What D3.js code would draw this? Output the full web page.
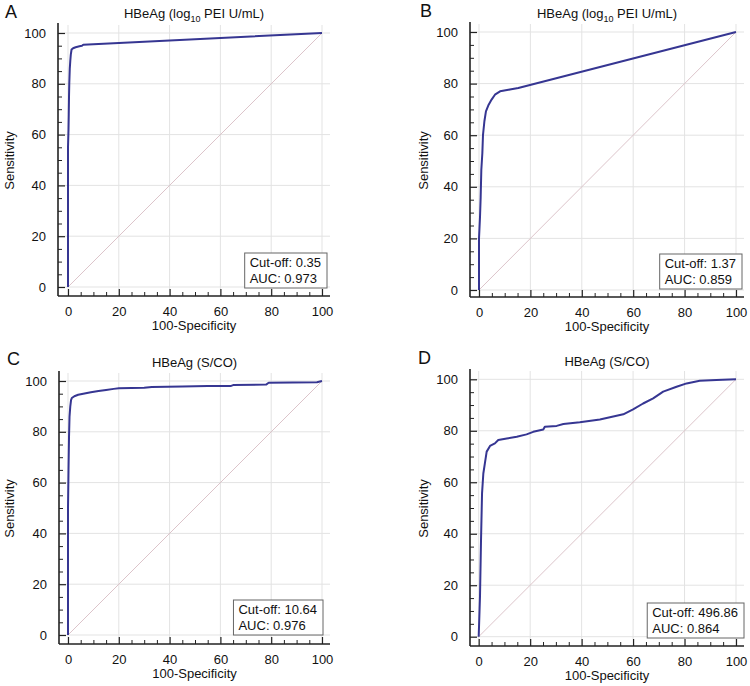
<!DOCTYPE html>
<html>
<head>
<meta charset="utf-8">
<script src="https://cdn.jsdelivr.net/npm/d3@7"></script>
<style>
  html, body { margin: 0; padding: 0; background: #fff; }
  svg { display: block; font-family: "Liberation Sans", Arial, sans-serif; }
</style>
</head>
<body>
<svg id="chart" width="750" height="686"></svg>
<script>
// ---------- data ----------
const panelLetters = ["A", "B", "C", "D"];
const titlePre  = ["HBeAg (log", "HBeAg (log", "HBeAg (S/CO)", "HBeAg (S/CO)"];
const titleSub  = ["10", "10", "", ""];
const titlePost = [" PEI U/mL)", " PEI U/mL)", "", ""];
const cutoffs = ["0.35", "1.37", "10.64", "496.86"];
const aucs    = ["0.973", "0.859", "0.976", "0.864"];
const majorTicks = [0, 20, 40, 60, 80, 100];
const minorTicks = [5, 10, 15, 25, 30, 35, 45, 50, 55, 65, 70, 75, 85, 90, 95];
const xAxisTitle = "100-Specificity";
const yAxisTitle = "Sensitivity";

// ROC curves: [100-Specificity, Sensitivity]
const rocA = [[0,0],[0,20],[0,40],[0,55],[0.2,62],[0.3,68],[0.4,75],[0.5,80],[0.7,86],[0.9,89],
  [1.1,91.5],[1.4,93.5],[2,94],[3,94.4],[4.5,94.8],[5.5,95],[6,95.4],[100,100]];
const rocB = [[0,0],[0,20],[0.4,28.5],[0.65,36],[0.9,46.5],[1.3,53],[1.55,60],[2.1,65.4],[2.7,69.2],
  [3.6,71.5],[4.9,73.8],[6.2,75.7],[8.2,77],[12,77.7],[15.3,78.3],[100,100]];
const rocC = [[0,0],[0,50],[0.2,65],[0.4,78],[0.6,86],[0.9,90],[1.2,92.5],[1.5,93.3],[2.5,94],[4,94.6],
  [6,95],[9,95.6],[12,96.1],[15,96.5],[18,96.9],[20,97.1],[30,97.3],[33,97.6],[45,97.8],[55,98],
  [64,98],[65,98.4],[78,98.6],[79,99.3],[98,99.5],[100,100]];
const rocD = [[0,0],[0.5,15.5],[0.9,37.6],[1.3,55.7],[1.8,63.4],[2.4,67.3],[3.1,71.9],[4.4,74.1],
  [6.3,75.1],[7.6,76.4],[10.9,77],[14.8,77.7],[18.6,78.6],[21.2,79.6],[25.1,80.5],[25.7,81.6],
  [30.3,81.9],[32.9,82.6],[39.3,83.3],[47.1,84.4],[56.2,86.4],[60,88.3],[63.9,90.6],[67.8,92.6],
  [71.7,95.2],[76.9,97.1],[80.8,98.4],[85.9,99.4],[92.4,99.7],[100,100]];
const rocs = [rocA, rocB, rocC, rocD];

// ---------- layout (pixels) ----------
const layout = [
  {x0:68,    x1:322, y0:287,   y1:33,    axisX:58,  axisY:296, right:330, top:25,  boxRight:327, boxBottom:288, sensX:9,   letterX:5,   letterY:18,  titleY:18},
  {x0:479,   x1:736, y0:290,   y1:32,    axisX:470, axisY:297, right:744, top:24,  boxRight:742, boxBottom:289, sensX:423, letterX:420, letterY:17,  titleY:18},
  {x0:68,    x1:322, y0:635,   y1:381,   axisX:59,  axisY:644, right:330, top:373, boxRight:323, boxBottom:635, sensX:9,   letterX:7,   letterY:365, titleY:367},
  {x0:478.7, x1:736, y0:636.7, y1:379.3, axisX:470, axisY:646, right:744, top:371, boxRight:744, boxBottom:638, sensX:423, letterX:418, letterY:364, titleY:366}
];

const svg = d3.select("#chart");
const curveColor = "#363692";
const diagColor = "#dcc4ca";
const gridColor = "#e3e3e3";
const axisColor = "#222";

panelLetters.forEach((letter, i) => {
  const L = layout[i];
  const x = d3.scaleLinear().domain([0, 100]).range([L.x0, L.x1]);
  const y = d3.scaleLinear().domain([0, 100]).range([L.y0, L.y1]);
  const g = svg.append("g");

  // gridlines
  g.append("g").selectAll("line").data(majorTicks).join("line")
    .attr("x1", d => x(d)).attr("x2", d => x(d))
    .attr("y1", L.top).attr("y2", L.axisY)
    .attr("stroke", gridColor).attr("stroke-width", 1);
  g.append("g").selectAll("line").data(majorTicks).join("line")
    .attr("x1", L.axisX).attr("x2", L.right)
    .attr("y1", d => y(d)).attr("y2", d => y(d))
    .attr("stroke", gridColor).attr("stroke-width", 1);

  // diagonal reference
  g.append("line")
    .attr("x1", x(0)).attr("y1", y(0)).attr("x2", x(100)).attr("y2", y(100))
    .attr("stroke", diagColor).attr("stroke-width", 1);

  // ROC curve
  const line = d3.line().x(d => x(d[0])).y(d => y(d[1]));
  g.append("path").datum(rocs[i])
    .attr("d", line)
    .attr("fill", "none")
    .attr("stroke", curveColor)
    .attr("stroke-width", 2)
    .attr("stroke-linejoin", "round");

  // axes: major ticks (inward) with labels
  const xAxis = d3.axisBottom(x).tickValues(majorTicks).tickSizeInner(-7).tickSizeOuter(0).tickPadding(11);
  const xg = g.append("g").attr("transform", `translate(0,${L.axisY})`).call(xAxis);
  const yAxis = d3.axisLeft(y).tickValues(majorTicks).tickSizeInner(-7).tickSizeOuter(0).tickPadding(12);
  const yg = g.append("g").attr("transform", `translate(${L.axisX},0)`).call(yAxis);
  [xg, yg].forEach(a => {
    a.select(".domain").remove();
    a.selectAll(".tick line").attr("stroke", axisColor).attr("stroke-width", 1.2);
    a.selectAll(".tick text").attr("fill", "#111").style("font-size", "13px")
      .style("font-family", '"Liberation Sans", Arial, sans-serif');
  });
  // minor ticks
  const xMinor = d3.axisBottom(x).tickValues(minorTicks).tickSizeInner(-4).tickSizeOuter(0).tickFormat("");
  const yMinor = d3.axisLeft(y).tickValues(minorTicks).tickSizeInner(-4).tickSizeOuter(0).tickFormat("");
  const xm = g.append("g").attr("transform", `translate(0,${L.axisY})`).call(xMinor);
  const ym = g.append("g").attr("transform", `translate(${L.axisX},0)`).call(yMinor);
  [xm, ym].forEach(a => {
    a.select(".domain").remove();
    a.selectAll(".tick line").attr("stroke", axisColor).attr("stroke-width", 1);
  });
  // axis lines
  g.append("line").attr("x1", L.axisX).attr("x2", L.right).attr("y1", L.axisY).attr("y2", L.axisY)
    .attr("stroke", axisColor).attr("stroke-width", 1.6);
  g.append("line").attr("x1", L.axisX).attr("x2", L.axisX).attr("y1", L.top - 2).attr("y2", L.axisY)
    .attr("stroke", axisColor).attr("stroke-width", 1.6);

  // axis titles
  g.append("text")
    .attr("x", (L.axisX + L.right) / 2).attr("y", L.axisY + 34)
    .attr("text-anchor", "middle").style("font-size", "13px").attr("fill", "#111")
    .text(xAxisTitle);
  g.append("text")
    .attr("transform", `translate(${L.sensX},${(L.top + L.axisY) / 2}) rotate(-90)`)
    .attr("dy", "0.35em")
    .attr("text-anchor", "middle").style("font-size", "13px").attr("fill", "#111")
    .text(yAxisTitle);

  // title
  const t = g.append("text")
    .attr("x", (L.axisX + L.right) / 2).attr("y", L.titleY)
    .attr("text-anchor", "middle").style("font-size", "13px").attr("fill", "#111");
  t.append("tspan").text(titlePre[i]);
  if (titleSub[i]) {
    t.append("tspan").attr("dy", 4).style("font-size", "9px").text(titleSub[i]);
    t.append("tspan").attr("dy", -4).text(titlePost[i]);
  }

  // panel letter
  g.append("text")
    .attr("x", L.letterX).attr("y", L.letterY)
    .style("font-size", "18px").attr("fill", "#111")
    .text(letter);

  // legend box
  const lg = g.append("g");
  const rect = lg.append("rect");
  const t1 = lg.append("text").style("font-size", "13px").attr("fill", "#111").text("Cut-off: " + cutoffs[i]);
  const t2 = lg.append("text").style("font-size", "13px").attr("fill", "#111").text("AUC: " + aucs[i]);
  const w = Math.max(t1.node().getComputedTextLength(), t2.node().getComputedTextLength()) + 11;
  const hgt = 35;
  const left = L.boxRight - w, topB = L.boxBottom - hgt;
  rect.attr("x", left).attr("y", topB).attr("width", w).attr("height", hgt)
    .attr("fill", "#fff").attr("stroke", "#666").attr("stroke-width", 1);
  t1.attr("x", left + 5).attr("y", topB + 14);
  t2.attr("x", left + 5).attr("y", topB + 30);
});
</script>
</body>
</html>
